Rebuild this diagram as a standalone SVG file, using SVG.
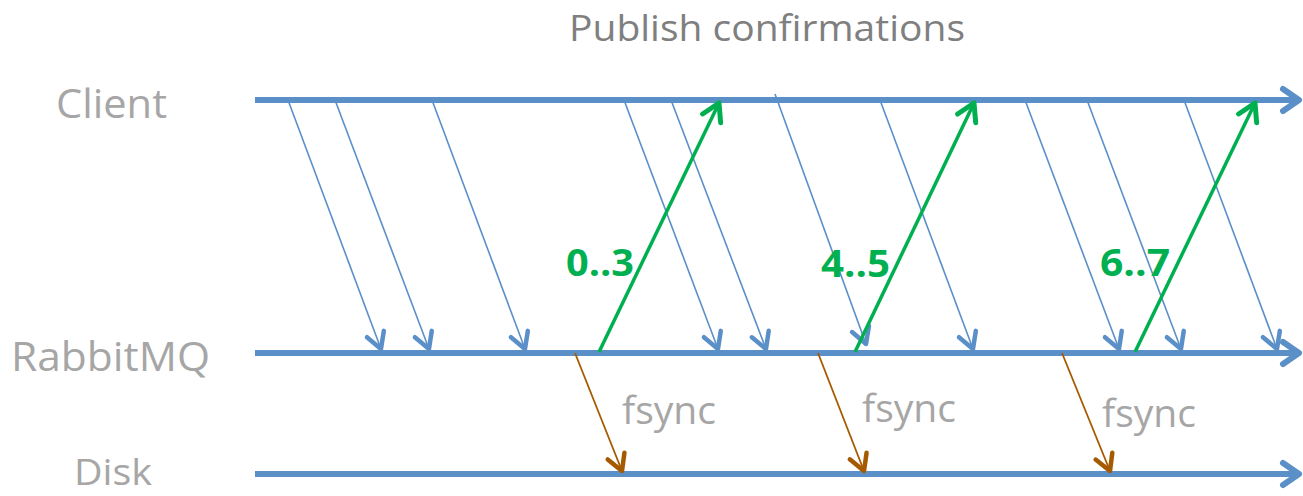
<svg xmlns="http://www.w3.org/2000/svg" width="1303" height="496" viewBox="0 0 1303 496">
<style>
.lane{stroke:#5B8FC8;stroke-width:6;fill:none}
.msg{stroke:#5B8FC8;stroke-width:1.6;fill:none}
.ack{stroke:#00B050;stroke-width:3.5;fill:none}
.fs{stroke:#A65A00;stroke-width:1.8;fill:none}
.lbl{font-family:"Open Sans","Liberation Sans",sans-serif;fill:#A6A6A6}
.ttl{font-family:"Open Sans","Liberation Sans",sans-serif;fill:#7F7F7F}
.num{font-family:"Open Sans","Liberation Sans",sans-serif;font-weight:bold;fill:#00B050}
</style>
<defs>
<marker id="hLane" markerUnits="userSpaceOnUse" viewBox="-25 -20 30 40" markerWidth="30" markerHeight="40" refX="0" refY="0" orient="auto" overflow="visible">
<path d="M-16,-11 L0,0 L-16,11" fill="none" stroke="#5B8FC8" stroke-width="6" stroke-linecap="round" stroke-linejoin="round"/>
</marker>
<marker id="hMsg" markerUnits="userSpaceOnUse" viewBox="-25 -15 30 30" markerWidth="30" markerHeight="30" refX="0" refY="0" orient="auto" overflow="visible">
<path d="M-16,-9 L0,0 L-16,9" fill="none" stroke="#5B8FC8" stroke-width="4.5" stroke-linecap="round" stroke-linejoin="round"/>
</marker>
<marker id="hAck" markerUnits="userSpaceOnUse" viewBox="-25 -20 30 40" markerWidth="30" markerHeight="40" refX="0" refY="0" orient="auto" overflow="visible">
<path d="M-17,-10 L0,0 L-17,10" fill="none" stroke="#00B050" stroke-width="5" stroke-linecap="round" stroke-linejoin="round"/>
</marker>
<marker id="hFs" markerUnits="userSpaceOnUse" viewBox="-20 -15 25 30" markerWidth="25" markerHeight="30" refX="0" refY="0" orient="auto" overflow="visible">
<path d="M-16,-9 L0,0 L-16,9" fill="none" stroke="#A65A00" stroke-width="4.5" stroke-linecap="round" stroke-linejoin="round"/>
</marker>
</defs>

<text class="ttl" x="569" y="41" font-size="37" textLength="396" lengthAdjust="spacingAndGlyphs">Publish confirmations</text>

<g id="client"><text class="lbl" x="56" y="118" font-size="41" textLength="111" lengthAdjust="spacingAndGlyphs">Client</text></g>
<g id="rabbitmq"><text class="lbl" x="11" y="371" font-size="40" textLength="199" lengthAdjust="spacingAndGlyphs">RabbitMQ</text></g>
<g id="disk"><text class="lbl" x="74" y="485" font-size="37" textLength="78" lengthAdjust="spacingAndGlyphs">Disk</text></g>

<g id="connectors">
<line class="lane" x1="255" y1="100" x2="1299" y2="100" marker-end="url(#hLane)"/>
<line class="lane" x1="255" y1="353" x2="1299" y2="353" marker-end="url(#hLane)"/>
<line class="lane" x1="255" y1="474" x2="1299" y2="474" marker-end="url(#hLane)"/>

<line class="msg" x1="288" y1="100" x2="381" y2="349" marker-end="url(#hMsg)"/>
<line class="msg" x1="335" y1="100" x2="429" y2="349" marker-end="url(#hMsg)"/>
<line class="msg" x1="432" y1="100" x2="525" y2="349" marker-end="url(#hMsg)"/>
<line class="msg" x1="624" y1="100" x2="718" y2="349" marker-end="url(#hMsg)"/>
<line class="msg" x1="671" y1="100" x2="766" y2="349" marker-end="url(#hMsg)"/>
<line class="msg" x1="775" y1="94" x2="866" y2="344" marker-end="url(#hMsg)"/>
<line class="msg" x1="880" y1="100" x2="973" y2="349" marker-end="url(#hMsg)"/>
<line class="msg" x1="1025" y1="100" x2="1119" y2="349" marker-end="url(#hMsg)"/>
<line class="msg" x1="1087" y1="100" x2="1181" y2="349" marker-end="url(#hMsg)"/>
<line class="msg" x1="1184" y1="100" x2="1277" y2="349" marker-end="url(#hMsg)"/>

<line class="ack" x1="599" y1="352" x2="719" y2="103" marker-end="url(#hAck)"/>
<line class="ack" x1="855" y1="352" x2="974" y2="103" marker-end="url(#hAck)"/>
<line class="ack" x1="1135" y1="352" x2="1255" y2="103" marker-end="url(#hAck)"/>

<line class="fs" x1="575" y1="353" x2="622" y2="471" marker-end="url(#hFs)"/>
<line class="fs" x1="818" y1="353" x2="864" y2="471" marker-end="url(#hFs)"/>
<line class="fs" x1="1062" y1="353" x2="1110" y2="471" marker-end="url(#hFs)"/>
</g>

<text class="num" x="566" y="276" font-size="38" textLength="68" lengthAdjust="spacingAndGlyphs">0..3</text>
<text class="num" x="821" y="277" font-size="38" textLength="69" lengthAdjust="spacingAndGlyphs">4..5</text>
<text class="num" x="1100" y="276" font-size="38" textLength="70" lengthAdjust="spacingAndGlyphs">6..7</text>

<text class="lbl" x="622" y="424" font-size="38" textLength="94" lengthAdjust="spacingAndGlyphs">fsync</text>
<text class="lbl" x="862" y="422" font-size="38" textLength="94" lengthAdjust="spacingAndGlyphs">fsync</text>
<text class="lbl" x="1102" y="427" font-size="38" textLength="94" lengthAdjust="spacingAndGlyphs">fsync</text>
</svg>
